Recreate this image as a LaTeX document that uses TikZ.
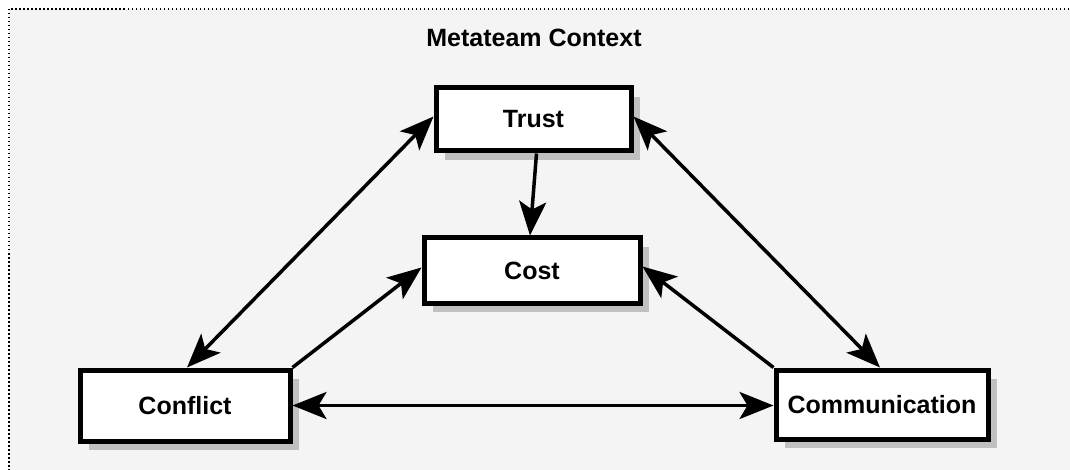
\documentclass[tikz,border=0pt]{standalone}
\usepackage{fontspec}
\setmainfont{Liberation Sans}
\usetikzlibrary{arrows.meta,positioning,shadows,calc}
\definecolor{bggray}{HTML}{F4F4F4}
\definecolor{shadowgray}{HTML}{C0C0C0}

\begin{document}
\begin{tikzpicture}[
  x=1pt, y=-1pt,
  font=\bfseries\fontsize{25}{29}\selectfont,
  factor/.style={draw=black, line width=5pt, fill=white, align=center, inner sep=0pt,
                 drop shadow={shadow xshift=9pt, shadow yshift=-9pt, fill=shadowgray, opacity=1}},
  link/.style={draw=black, line width=3.5pt, -{Stealth[length=34pt, width=27pt, inset=8pt]}},
  both/.style={link, {Stealth[length=34pt, width=27pt, inset=8pt]}-{Stealth[length=34pt, width=27pt, inset=8pt]}}
]
\useasboundingbox (0,0) rectangle (1070,470);
\clip (0,0) rectangle (1070,470);
\draw[fill=bggray, line width=1.5pt, dash pattern=on 1.5pt off 2.5pt] (9,9) rectangle (1085,485);
\node (title) at (534,38) {Metateam Context};
\node[factor, minimum width=195, minimum height=63] (trust) at (533.5,119.5) {Trust};
\node[factor, minimum width=216, minimum height=65] (cost) at (532,270.5) {Cost};
\node[factor, minimum width=210, minimum height=71] (conflict) at (185,405.5) {Conflict};
\node[factor, minimum width=212, minimum height=69] (comm) at (882,404.5) {Communication};
\draw[both] ([yshift=3]trust.west) -- ([xshift=2]conflict.north);
\draw[both] ([yshift=3]trust.east) -- ([xshift=-2]comm.north);
\draw[link] ([xshift=3]trust.south) -- ([xshift=-2]cost.north);
\draw[link] (conflict.north east) -- ([yshift=3]cost.west);
\draw[link] (comm.north west) -- ([yshift=4]cost.east);
\draw[both] (conflict.east) -- (conflict.east -| comm.west);
\end{tikzpicture}
\end{document}
